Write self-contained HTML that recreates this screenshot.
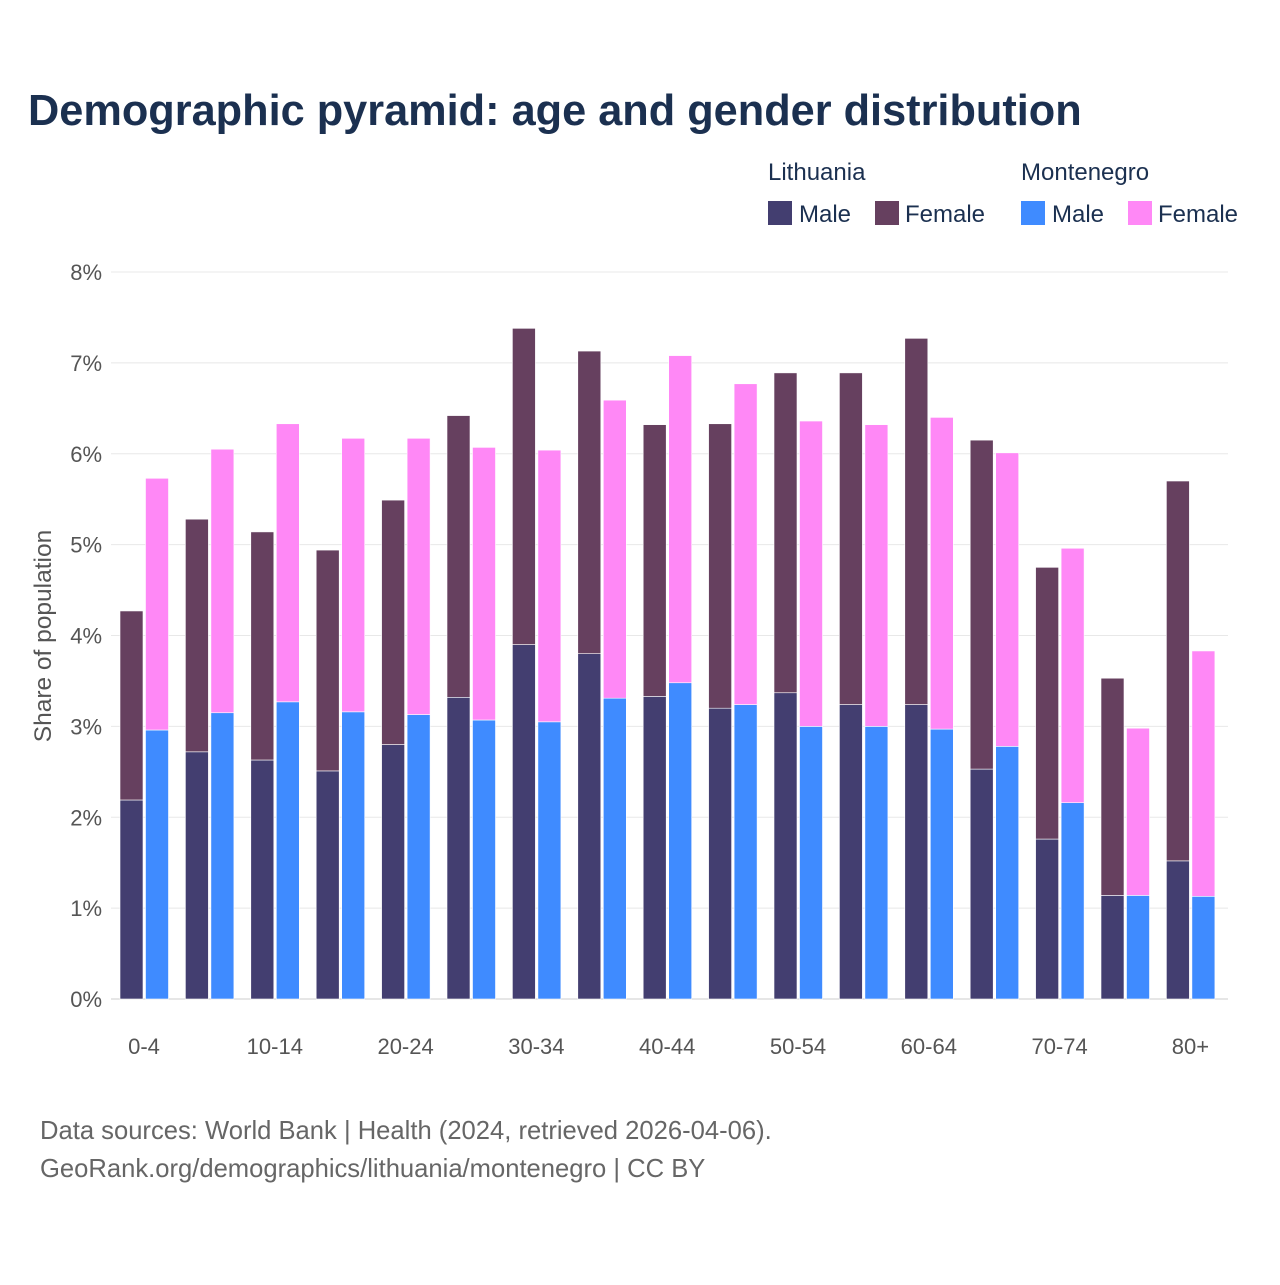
<!DOCTYPE html>
<html><head><meta charset="utf-8"><style>
body{margin:0;background:#fff;font-family:"Liberation Sans",sans-serif}
svg text{font-family:"Liberation Sans",sans-serif}
</style></head><body>
<svg width="1280" height="1280" viewBox="0 0 1280 1280" id="chart">
<rect width="1280" height="1280" fill="#fff"/>
<text x="28" y="125" font-size="43.3" font-weight="bold" fill="#1b3050">Demographic pyramid: age and gender distribution</text>
<g font-size="24" fill="#1b3050">
<text x="768" y="180">Lithuania</text>
<text x="1021" y="180">Montenegro</text>
<rect x="768" y="201" width="24" height="24" fill="#433e70"/>
<text x="799" y="222">Male</text>
<rect x="875" y="201" width="24" height="24" fill="#66405f"/>
<text x="905" y="222">Female</text>
<rect x="1021" y="201" width="24" height="24" fill="#3f8bff"/>
<text x="1052" y="222">Male</text>
<rect x="1128" y="201" width="24" height="24" fill="#ff88f6"/>
<text x="1158" y="222">Female</text>
</g>
<g id="grid"></g><g id="bars"></g><g id="xlabels"></g>
<text transform="translate(51,636) rotate(-90)" text-anchor="middle" font-size="24.5" fill="#555">Share of population</text>
<text x="40" y="1139" font-size="25.6" fill="#666">Data sources: World Bank | Health (2024, retrieved 2026-04-06).</text>
<text x="40" y="1177" font-size="25.6" fill="#666">GeoRank.org/demographics/lithuania/montenegro | CC BY</text>
</svg>
<script>
const categories=["0-4","5-9","10-14","15-19","20-24","25-29","30-34","35-39","40-44","45-49","50-54","55-59","60-64","65-69","70-74","75-79","80+"];
const ltMale=[2.19,2.72,2.63,2.51,2.80,3.32,3.90,3.80,3.33,3.20,3.37,3.24,3.24,2.53,1.76,1.14,1.52];
const ltFemale=[2.08,2.56,2.51,2.43,2.69,3.10,3.48,3.33,2.99,3.13,3.52,3.65,4.03,3.62,2.99,2.39,4.18];
const meMale=[2.96,3.15,3.27,3.16,3.13,3.07,3.05,3.31,3.48,3.24,3.00,3.00,2.97,2.78,2.16,1.14,1.13];
const meFemale=[2.77,2.90,3.06,3.01,3.04,3.00,2.99,3.28,3.60,3.53,3.36,3.32,3.43,3.23,2.80,1.84,2.70];
const yTicks=[0,1,2,3,4,5,6,7,8];
const yTickLabels=["0%","1%","2%","3%","4%","5%","6%","7%","8%"];
const NS="http://www.w3.org/2000/svg";
const y=v=>999-v*90.875;
const xc=i=>144+i*65.4;
function mk(tag,attrs,parent){const e=document.createElementNS(NS,tag);for(const k in attrs)e.setAttribute(k,attrs[k]);parent.appendChild(e);return e;}
const grid=document.getElementById('grid'),bars=document.getElementById('bars'),xl=document.getElementById('xlabels');
yTicks.forEach((t,i)=>{
 const l=mk('line',{x1:111,x2:1228,y1:y(t),y2:y(t),stroke:t===0?'#ccc':'#e8e8e8','stroke-width':1},grid);
 
 
 const tx=mk('text',{x:102,y:y(t)+8,'text-anchor':'end','font-size':22,fill:'#555'},grid);
 tx.textContent=yTickLabels[i];
 
 
});
function bar(x,v0,v1,color,name){
 const r=mk('rect',{x:x,y:y(v0+v1),width:23,height:y(v0)-y(v0+v1),fill:color,stroke:'#fff','stroke-width':0.6},bars);
 
 
}
categories.forEach((c,i)=>{
 const cx=xc(i);
 bar(cx-24,0,ltMale[i],'#433e70','bar-lt-male-'+c);
 bar(cx-24,ltMale[i],ltFemale[i],'#66405f','bar-lt-female-'+c);
 bar(cx+1.5,0,meMale[i],'#3f8bff','bar-me-male-'+c);
 bar(cx+1.5,meMale[i],meFemale[i],'#ff88f6','bar-me-female-'+c);
 if(i%2===0){
  const t=mk('text',{x:cx,y:1054,'text-anchor':'middle','font-size':22,fill:'#555'},xl);
  t.textContent=c;
  
  
 }
});
</script>
</body></html>
